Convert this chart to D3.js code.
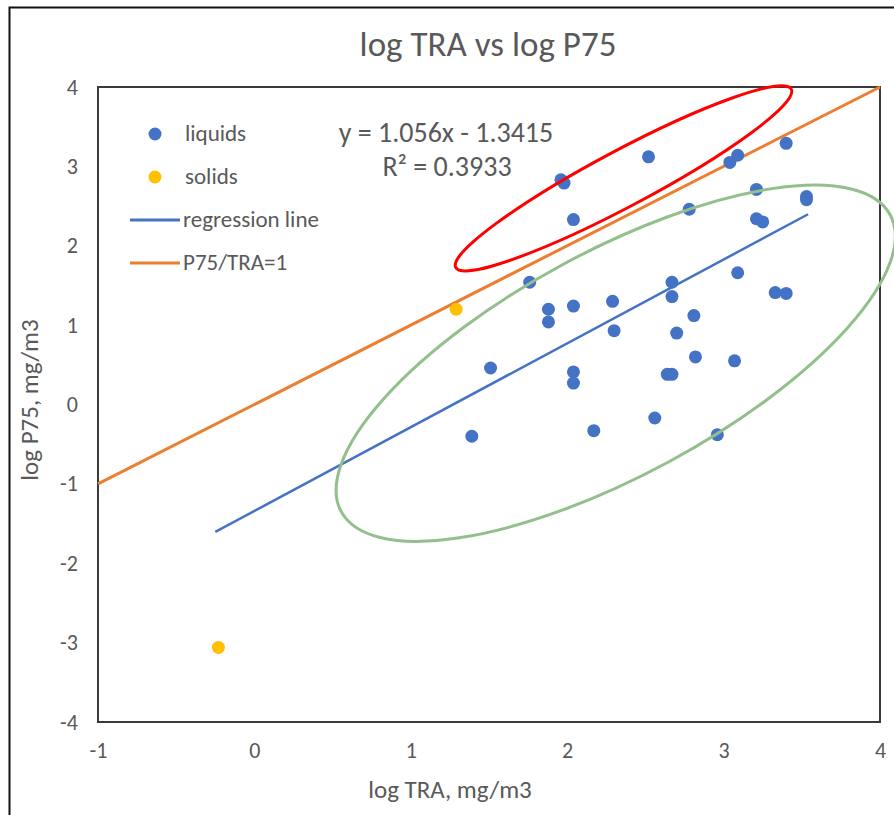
<!DOCTYPE html>
<html>
<head>
<meta charset="utf-8">
<script src="https://cdn.jsdelivr.net/npm/d3@7"></script>
<style>
  body { margin: 0; background: #fff; }
  svg text { font-family: Carlito, Calibri, Lato, "Open Sans", sans-serif; fill: #595959; }
</style>
</head>
<body>
<svg id="chart" width="894" height="815"></svg>
<script>
// data
var liquidX = [1.96, 1.98, 2.04, 2.52, 3.04, 3.09, 3.40, 3.21, 3.53, 3.53, 2.78, 3.21, 3.25,
               1.76, 3.09, 2.67, 2.67, 3.33, 3.40, 2.29, 2.04, 1.88, 1.88, 2.81, 2.30, 2.70,
               2.82, 3.07, 1.51, 2.04, 2.04, 2.64, 2.67, 2.56, 2.17, 1.39, 2.96];
var liquidY = [2.83, 2.79, 2.33, 3.12, 3.05, 3.14, 3.29, 2.71, 2.62, 2.58, 2.46, 2.34, 2.30,
               1.54, 1.66, 1.54, 1.36, 1.41, 1.40, 1.30, 1.24, 1.20, 1.04, 1.12, 0.93, 0.90,
               0.60, 0.55, 0.46, 0.41, 0.27, 0.38, 0.38, -0.17, -0.33, -0.40, -0.38];
var solidX = [1.29, -0.23];
var solidY = [1.20, -3.06];
var xTicks = [-1, 0, 1, 2, 3, 4];
var yTicks = [-4, -3, -2, -1, 0, 1, 2, 3, 4];
var slope = 1.056, intercept = -1.3415, rSquared = 0.3933;
var regRange = [-0.25, 3.54];
var identityRange = [-1, 4];

var svg = d3.select('#chart');
var x = d3.scaleLinear().domain([-1, 4]).range([98, 880]);
var y = d3.scaleLinear().domain([-4, 4]).range([722, 87]);

// outer frame
svg.append('rect')
    .attr('x', 9.5).attr('y', 7.5)
    .attr('width', 900).attr('height', 820)
    .attr('fill', 'none').attr('stroke', '#111').attr('stroke-width', 2);

svg.append('text')
    .attr('x', 488).attr('y', 56)
    .attr('text-anchor', 'middle')
    .style('font-size', '35px')
    .text('log TRA vs log P75');

// axes (labels only)
var xAxis = svg.append('g')
    .attr('transform', 'translate(0,722)')
    .call(d3.axisBottom(x).tickValues(xTicks).tickSize(0).tickPadding(20)
        .tickFormat(function(d) { return String(d); }));
var yAxis = svg.append('g')
    .attr('transform', 'translate(98,0)')
    .call(d3.axisLeft(y).tickValues(yTicks).tickSize(0).tickPadding(20)
        .tickFormat(function(d) { return String(d); }));
[xAxis, yAxis].forEach(function(g) {
    g.select('.domain').remove();
    g.selectAll('text').style('font-size', '22px').style('font-family', null).attr('fill', '#595959');
});

svg.append('text')
    .attr('x', 450).attr('y', 798)
    .attr('text-anchor', 'middle')
    .style('font-size', '25px')
    .text('log TRA, mg/m3');
svg.append('text')
    .attr('transform', 'translate(38,400) rotate(-90)')
    .attr('text-anchor', 'middle')
    .style('font-size', '25px')
    .text('log P75, mg/m3');

// plot area border
svg.append('rect')
    .attr('x', x(-1)).attr('y', y(4))
    .attr('width', x(4) - x(-1)).attr('height', y(-4) - y(4))
    .attr('fill', 'none').attr('stroke', '#3a3a3a').attr('stroke-width', 2);

var line = d3.line()
    .x(function(d) { return x(d[0]); })
    .y(function(d) { return y(d[1]); });

svg.append('path')
    .datum(identityRange.map(function(v) { return [v, v]; }))
    .attr('d', line)
    .attr('fill', 'none').attr('stroke', '#ED7D31').attr('stroke-width', 3);

svg.append('path')
    .datum(regRange.map(function(v) { return [v, slope * v + intercept]; }))
    .attr('d', line)
    .attr('fill', 'none').attr('stroke', '#4472C4').attr('stroke-width', 2.5);

svg.append('g').selectAll('circle')
    .data(d3.zip(liquidX, liquidY))
    .enter().append('circle')
    .attr('cx', function(d) { return x(d[0]); })
    .attr('cy', function(d) { return y(d[1]); })
    .attr('r', 6.5)
    .attr('fill', '#4472C4');

svg.append('g').selectAll('circle')
    .data(d3.zip(solidX, solidY))
    .enter().append('circle')
    .attr('cx', function(d) { return x(d[0]); })
    .attr('cy', function(d) { return y(d[1]); })
    .attr('r', 6.5)
    .attr('fill', '#FFC000');

// trendline label
svg.append('text')
    .attr('x', 446).attr('y', 142)
    .attr('text-anchor', 'middle')
    .style('font-size', '28px')
    .text('y = ' + slope + 'x - ' + Math.abs(intercept));
svg.append('text')
    .attr('x', 447).attr('y', 176)
    .attr('text-anchor', 'middle')
    .style('font-size', '28px')
    .text('R\u00b2 = ' + rSquared);

// legend
var legend = svg.append('g').attr('transform', 'translate(130,134)');
var items = [
    { label: 'liquids', type: 'dot', color: '#4472C4' },
    { label: 'solids', type: 'dot', color: '#FFC000' },
    { label: 'regression line', type: 'line', color: '#4472C4' },
    { label: 'P75/TRA=1', type: 'line', color: '#ED7D31' }
];
items.forEach(function(it, i) {
    var g = legend.append('g').attr('transform', 'translate(0,' + (i * 43) + ')');
    if (it.type === 'dot') {
        g.append('circle').attr('cx', 25).attr('cy', 0).attr('r', 6.5).attr('fill', it.color);
    } else {
        g.append('line').attr('x1', 0).attr('x2', 50).attr('y1', 0).attr('y2', 0)
            .attr('stroke', it.color).attr('stroke-width', 3);
    }
    g.append('text')
        .attr('x', it.type === 'dot' ? 55 : 53).attr('y', 7)
        .style('font-size', '23px')
        .text(it.label);
});

// hand-drawn annotation ellipses (centre in data units, size in px)
var marks = [
    { cx: 2.36, cy: 2.85, rx: 190, ry: 28, angle: -28, color: '#FF0000', width: 3 },
    { cx: 2.31, cy: 0.52, rx: 312, ry: 112, angle: -28.4, color: '#92BF8C', width: 3 }
];
svg.append('g').selectAll('ellipse')
    .data(marks)
    .enter().append('ellipse')
    .attr('transform', function(d) {
        return 'translate(' + x(d.cx) + ',' + y(d.cy) + ') rotate(' + d.angle + ')';
    })
    .attr('rx', function(d) { return d.rx; })
    .attr('ry', function(d) { return d.ry; })
    .attr('fill', 'none')
    .attr('stroke', function(d) { return d.color; })
    .attr('stroke-width', function(d) { return d.width; });
</script>
</body>
</html>
